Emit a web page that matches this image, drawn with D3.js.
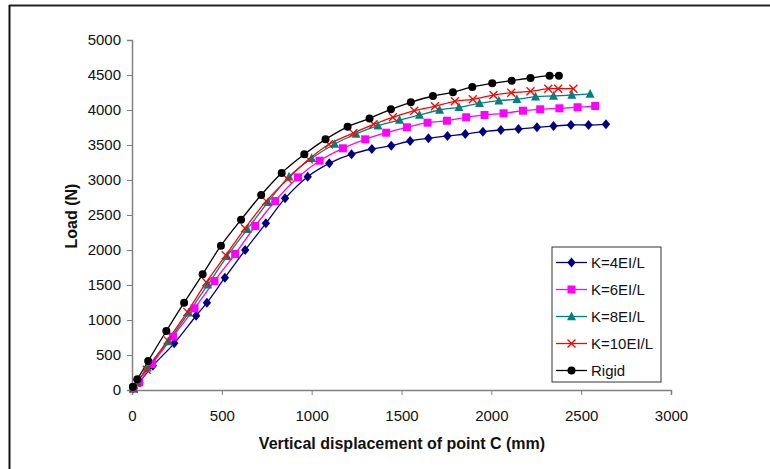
<!DOCTYPE html>
<html><head><meta charset="utf-8">
<script src="https://cdn.jsdelivr.net/npm/d3@7/dist/d3.min.js"></script>
<style>
body{margin:0;background:#fff;}
text{font-family:"Liberation Sans",Arial,sans-serif;}
</style></head>
<body><svg id="c" width="770" height="469"></svg>
<script>
const xTicks=[0,500,1000,1500,2000,2500,3000];
const yTicks=[0,500,1000,1500,2000,2500,3000,3500,4000,4500,5000];
const seriesNames=["K=4EI/L","K=6EI/L","K=8EI/L","K=10EI/L","Rigid"];
const k4X=[10,40,116,235,357,417,517,630,745,852,978,1098,1222,1335,1443,1548,1650,1756,1855,1953,2053,2151,2254,2346,2443,2541,2638];
const k4Y=[24,110,347,667,1061,1247,1604,2000,2381,2738,3048,3238,3369,3443,3490,3557,3595,3629,3657,3690,3714,3729,3753,3771,3786,3786,3796];
const k6X=[8,40,111,228,348,459,574,686,797,924,1044,1174,1298,1415,1530,1645,1753,1860,1962,2068,2176,2272,2379,2480,2578];
const k6Y=[24,110,371,762,1167,1557,1943,2343,2700,3038,3276,3453,3581,3676,3753,3819,3847,3896,3929,3953,3990,4010,4024,4039,4057];
const k8X=[8,30,85,202,315,422,529,642,757,874,1000,1128,1247,1369,1489,1600,1712,1820,1934,2042,2142,2246,2346,2448,2550];
const k8Y=[20,110,320,695,1103,1505,1910,2296,2683,3048,3310,3514,3657,3776,3857,3929,4000,4039,4096,4133,4153,4190,4200,4214,4229];
const k10X=[10,26,82,198,308,414,522,629,747,866,984,1096,1232,1344,1452,1571,1686,1797,1897,2012,2111,2218,2317,2372,2457];
const k10Y=[20,104,290,709,1116,1540,1926,2310,2698,3014,3295,3510,3670,3796,3896,3990,4053,4124,4153,4214,4247,4267,4304,4304,4304];
const rigidX=[5,30,90,191,290,393,495,607,719,833,959,1077,1200,1322,1441,1552,1675,1786,1894,2005,2113,2218,2324,2376];
const rigidY=[47,153,414,843,1248,1652,2062,2433,2786,3100,3367,3581,3760,3880,4010,4110,4200,4253,4329,4381,4419,4457,4490,4490];

const svg=d3.select("#c");
// outer frame
svg.append("line").attr("x1",9).attr("x2",770).attr("y1",5.5).attr("y2",5.5).attr("stroke","#222").attr("stroke-width",2);
svg.append("line").attr("x1",9.5).attr("x2",9.5).attr("y1",5).attr("y2",469).attr("stroke","#111").attr("stroke-width",2);

const x=d3.scaleLinear().domain([0,3000]).range([132,671]);
const y=d3.scaleLinear().domain([0,5000]).range([390,40]);

const gx=svg.append("g").attr("transform","translate(0,390)")
  .call(d3.axisBottom(x).tickValues(xTicks).tickSize(5).tickFormat(d3.format("d")));
gx.selectAll(".tick text").attr("y",31).attr("dy",0);
const gy=svg.append("g").attr("transform","translate(132,0)")
  .call(d3.axisLeft(y).tickValues(yTicks).tickSize(5).tickPadding(6).tickFormat(d3.format("d")));
[gx,gy].forEach(g=>{
  g.select(".domain").attr("stroke","#808080").attr("stroke-width",1.5);
  g.selectAll(".tick line").attr("stroke","#808080");
  g.selectAll(".tick text").attr("font-size",15).attr("fill","#111").attr("font-family","'Liberation Sans',Arial,sans-serif");
});

svg.append("text").attr("x",402).attr("y",449).attr("text-anchor","middle")
  .attr("font-size",16).attr("font-weight","bold").attr("fill","#111").text("Vertical displacement of point C (mm)");
svg.append("text").attr("transform","translate(77,216) rotate(-90)").attr("text-anchor","middle")
  .attr("font-size",16).attr("font-weight","bold").attr("fill","#111").text("Load (N)");

const series=[
 {name:seriesNames[0],xs:k4X,ys:k4Y,color:"#000080",m:"diamond"},
 {name:seriesNames[1],xs:k6X,ys:k6Y,color:"#FF00FF",m:"square"},
 {name:seriesNames[2],xs:k8X,ys:k8Y,color:"#008080",m:"triangle"},
 {name:seriesNames[3],xs:k10X,ys:k10Y,color:"#FF0000",m:"x"},
 {name:seriesNames[4],xs:rigidX,ys:rigidY,color:"#000000",m:"circle"}
];
function marker(g,type,color){
  if(type==="diamond") g.append("path").attr("d","M0,-5L4.2,0L0,5L-4.2,0Z").attr("fill",color);
  else if(type==="square") g.append("rect").attr("x",-4).attr("y",-4).attr("width",8).attr("height",8).attr("fill",color);
  else if(type==="triangle") g.append("path").attr("d","M0,-5L4.5,3.8L-4.5,3.8Z").attr("fill",color);
  else if(type==="x") g.append("path").attr("d","M-4,-4L4,4M-4,4L4,-4").attr("stroke",color).attr("stroke-width",1.3).attr("fill","none");
  else if(type==="circle") g.append("circle").attr("r",4).attr("fill",color);
}
const line=d3.line().curve(d3.curveCatmullRom.alpha(0.5)).x(d=>x(d[0])).y(d=>y(d[1]));
series.forEach(s=>{
  const pts=s.xs.map((v,i)=>[v,s.ys[i]]);
  svg.append("path").datum(pts).attr("d",line).attr("fill","none").attr("stroke",s.color).attr("stroke-width",1.3);
});
series.forEach(s=>{
  const pts=s.xs.map((v,i)=>[v,s.ys[i]]);
  pts.forEach(p=>{
    const g=svg.append("g").attr("transform",`translate(${x(p[0])},${y(p[1])})`);
    marker(g,s.m,s.color);
  });
});

// legend
const lg=svg.append("g");
lg.append("rect").attr("x",552).attr("y",247).attr("width",109).attr("height",135)
  .attr("fill","#fff").attr("stroke","#333").attr("stroke-width",1);
series.forEach((s,i)=>{
  const yy=262.5+i*27;
  lg.append("line").attr("x1",556).attr("x2",587).attr("y1",yy).attr("y2",yy).attr("stroke",s.color).attr("stroke-width",1.3);
  const g=lg.append("g").attr("transform",`translate(571.5,${yy})`);
  marker(g,s.m,s.color);
  lg.append("text").attr("x",591).attr("y",yy+5.5).attr("font-size",15).attr("fill","#111").text(s.name);
});
</script></body></html>
